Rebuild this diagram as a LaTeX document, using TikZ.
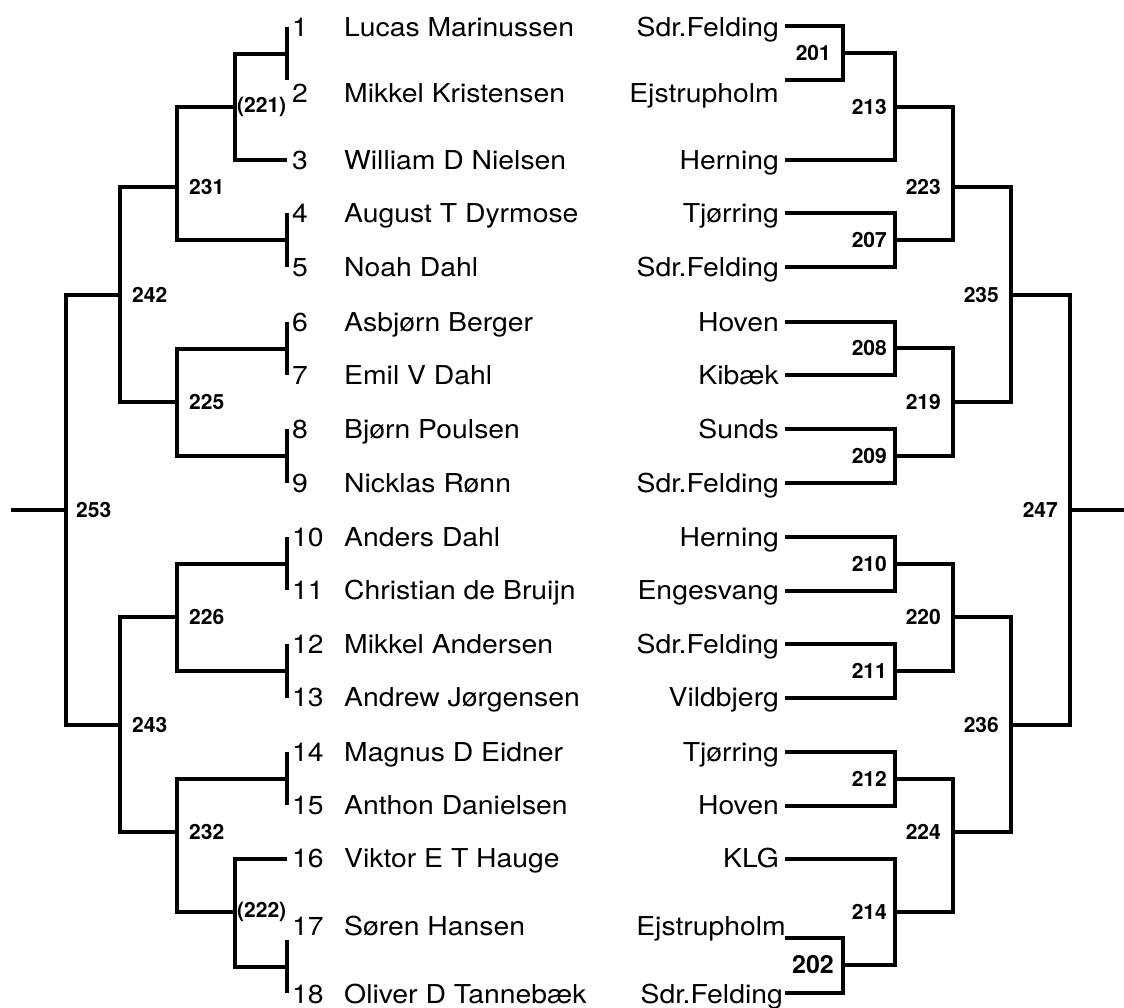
\documentclass[tikz,border=0pt]{standalone}
\usepackage{fontspec}
\setmainfont[FakeStretch=1.09]{TeX Gyre Heros}
\newfontfamily\matchfont{TeX Gyre Heros}
\usetikzlibrary{positioning}

\begin{document}
\begin{tikzpicture}[x=1pt, y=-1pt,
	% bracket lines
	bar/.style={
			line width=4pt,
			line join=miter,
			color=black
		},
	% seed number, player and club
	seed/.style={
			anchor=base west,
			inner sep=0pt,
			font=\fontsize{26}{30}\selectfont
		},
	player/.style={
			anchor=base west,
			inner sep=0pt,
			font=\fontsize{26}{30}\selectfont
		},
	club/.style={
			anchor=base east,
			inner sep=0pt,
			font=\fontsize{26}{30}\selectfont
		},
	% match numbers
	matchno/.style={
			inner sep=0pt,
			font=\matchfont\fontsize{21}{24}\selectfont\bfseries
		},
	bigmatchno/.style={
			inner sep=0pt,
			font=\matchfont\fontsize{25}{28}\selectfont\bfseries
		}
	]

	\useasboundingbox (0,0) rectangle (1124,1007);

	% Players with seed and club
	\foreach \n/\y/\name/\club/\cx in {
			1/27/Lucas Marinussen/Sdr.Felding/779,
			2/93/Mikkel Kristensen/Ejstrupholm/779,
			3/160/William D Nielsen/Herning/779,
			4/213/August T Dyrmose/Tjørring/779,
			5/267/Noah Dahl/Sdr.Felding/779,
			6/322/Asbjørn Berger/Hoven/779,
			7/375/Emil V Dahl/Kibæk/779,
			8/429/Bjørn Poulsen/Sunds/779,
			9/483/Nicklas Rønn/Sdr.Felding/779,
			10/537/Anders Dahl/Herning/779,
			11/590/Christian de Bruijn/Engesvang/779,
			12/644/Mikkel Andersen/Sdr.Felding/779,
			13/697/Andrew Jørgensen/Vildbjerg/779,
			14/752/Magnus D Eidner/Tjørring/779,
			15/805/Anthon Danielsen/Hoven/779,
			16/858/Viktor E T Hauge/KLG/779,
			17/926/Søren Hansen/Ejstrupholm/786,
			18/994/Oliver D Tannebæk/Sdr.Felding/783}{
			\node[seed] (no\n) at (292,\y+9.5) {\n};
			\node[player] (pl\n) at (344,\y+9.5) {\name};
			\node[club] (cl\n) at (\cx,\y+9.5) {\club};
		}

	% Left half: seed ticks
	\foreach \a/\b/\m in {27/80/L12, 213/267/L45, 322/375/L67, 429/483/L89,
			537/590/L1011, 644/698/L1213, 752/805/L1415, 940/993/L1718}{
			\coordinate (\m top) at (287,\a);
			\coordinate (\m bot) at (287,\b);
			\coordinate (\m) at (287,{(\a+\b)/2});
			\draw[bar] (\m top) -- (\m bot);
		}
	\coordinate (L3) at (287,160);
	\coordinate (L16) at (287,859);

	% Left half: matches
	\coordinate (m221) at (235,107);
	\coordinate (m231) at (177,187);
	\coordinate (m242) at (120,295);
	\coordinate (m225) at (177,402);
	\coordinate (m253) at (66,510);
	\coordinate (m226) at (177,617);
	\coordinate (m243) at (120,725);
	\coordinate (m232) at (177,832);
	\coordinate (m222) at (235,912);
	\coordinate (winL) at (11,510);

	\draw[bar] (L12) -| (m221) |- (L3);
	\draw[bar] (m221) -| (m231) |- (L45);
	\draw[bar] (m231) -| (m242) |- (m225);
	\draw[bar] (L67) -| (m225) |- (L89);
	\draw[bar] (m242) -| (m253) |- (m243);
	\draw[bar] (L1011) -| (m226) |- (L1213);
	\draw[bar] (m226) -| (m243) |- (m232);
	\draw[bar] (L1415) -| (m232) |- (m222);
	\draw[bar] (L16) -| (m222) |- (L1718);
	\draw[bar] (winL) -- (m253);

	% Right half: club line ends
	\foreach \r/\y in {1/26, 2/80, 3/160, 4/213, 5/267, 6/322, 7/375, 8/429, 9/483,
			10/537, 11/591, 12/644, 13/698, 14/752, 15/806, 16/859, 17/938, 18/993}{
			\coordinate (R\r) at (785,\y);
		}

	% Right half: matches
	\coordinate (m201) at (843,53);
	\coordinate (m213) at (895,107);
	\coordinate (m207) at (895,240);
	\coordinate (m223) at (953,187);
	\coordinate (m235) at (1011,295);
	\coordinate (m208) at (895,348);
	\coordinate (m219) at (953,402);
	\coordinate (m209) at (895,456);
	\coordinate (m247) at (1070,510);
	\coordinate (m210) at (895,564);
	\coordinate (m220) at (953,617);
	\coordinate (m211) at (895,671);
	\coordinate (m236) at (1011,725);
	\coordinate (m212) at (895,779);
	\coordinate (m224) at (953,832);
	\coordinate (m214) at (895,912);
	\coordinate (m202) at (843,965);
	\coordinate (winR) at (1124,510);

	\draw[bar] (R1) -| (m201) |- (R2);
	\draw[bar] (m201) -| (m213) |- (R3);
	\draw[bar] (R4) -| (m207) |- (R5);
	\draw[bar] (m213) -| (m223) |- (m207);
	\draw[bar] (m223) -| (m235) |- (m219);
	\draw[bar] (R6) -| (m208) |- (R7);
	\draw[bar] (m208) -| (m219) |- (m209);
	\draw[bar] (R8) -| (m209) |- (R9);
	\draw[bar] (m235) -| (m247) |- (m236);
	\draw[bar] (R10) -| (m210) |- (R11);
	\draw[bar] (m210) -| (m220) |- (m211);
	\draw[bar] (R12) -| (m211) |- (R13);
	\draw[bar] (m220) -| (m236) |- (m224);
	\draw[bar] (R14) -| (m212) |- (R15);
	\draw[bar] (m212) -| (m224) |- (m214);
	\draw[bar] (R16) -| (m214) |- (m202);
	\draw[bar] (R17) -| (m202) |- (R18);
	\draw[bar] (m247) -- (winR);

	% Match numbers
	\foreach \m/\d in {231/12pt, 242/12pt, 253/10pt, 225/12pt, 226/12pt, 243/12pt, 232/12pt}{
			\node[matchno, right=\d of m\m] (lab\m) {\m};
		}
	\node[matchno, right=2pt of m221] (lab221) {(221)};
	\node[matchno, right=2pt of m222] (lab222) {(222)};
	\foreach \m/\d in {201/12pt, 213/8pt, 207/8pt, 223/12pt, 235/12pt, 208/8pt, 219/12pt,
			209/8pt, 247/12pt, 210/8pt, 220/12pt, 211/8pt, 236/12pt, 212/8pt, 224/12pt, 214/8pt}{
			\node[matchno, left=\d of m\m] (lab\m) {\m};
		}
	\node[bigmatchno, left=9pt of m202] (lab202) {202};

\end{tikzpicture}
\end{document}
